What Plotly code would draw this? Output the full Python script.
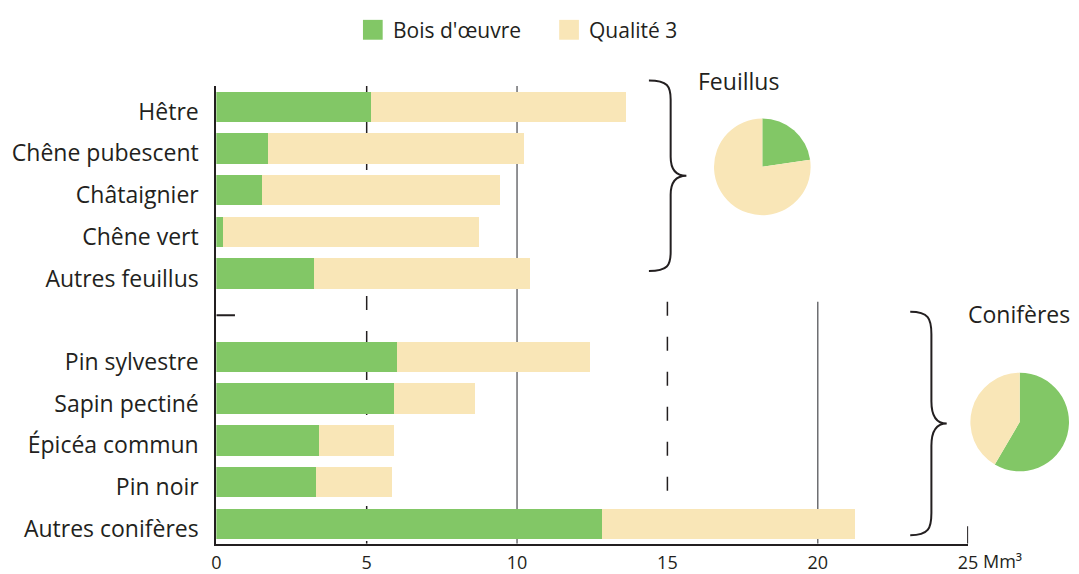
import plotly.graph_objects as go

# ---- data ----
feuillus = ["Hêtre", "Chêne pubescent", "Châtaignier", "Chêne vert", "Autres feuillus"]
feuillus_bois = [5.15, 1.74, 1.54, 0.23, 3.25]
feuillus_q3 = [8.49, 8.49, 7.90, 8.52, 7.18]

coniferes = ["Pin sylvestre", "Sapin pectiné", "Épicéa commun", "Pin noir", "Autres conifères"]
coniferes_bois = [6.03, 5.93, 3.44, 3.34, 12.85]
coniferes_q3 = [6.40, 2.69, 2.49, 2.50, 8.40]

series_names = ["Bois d'œuvre", "Qualité 3"]
x_ticks = [0, 5, 10, 15, 20, 25]
x_unit = "Mm³"

GREEN = "#82C766"
BEIGE = "#F9E6B7"
TXT = "#231F20"
FONT = "Open Sans"

W, H = 1079, 574

# positions: feuillus on top, a gap slot, then conifères
names = feuillus + coniferes
bois = feuillus_bois + coniferes_bois
q3 = feuillus_q3 + coniferes_q3
n_f = len(feuillus)
n_c = len(coniferes)
ypos = [n_f + n_c - i for i in range(n_f)] + [n_c - 1 - i for i in range(n_c)]
gap_pos = n_c

def px(x):
    return x / W

def py(y):
    return 1 - y / H

fig = go.Figure()
fig.add_trace(go.Bar(y=ypos, x=bois, orientation="h", name=series_names[0],
                     marker=dict(color=GREEN, line=dict(width=0)), width=0.73,
                     showlegend=False))
fig.add_trace(go.Bar(y=ypos, x=q3, orientation="h", name=series_names[1],
                     marker=dict(color=BEIGE, line=dict(width=0)), width=0.73,
                     showlegend=False))

# pies
fig.add_trace(go.Pie(values=[sum(feuillus_bois), sum(feuillus_q3)], labels=series_names,
                     marker=dict(colors=[GREEN, BEIGE], line=dict(width=0)),
                     sort=False, direction="clockwise", rotation=0, textinfo="none",
                     hoverinfo="label+value", showlegend=False,
                     domain=dict(x=[px(719), px(817)], y=[py(217), py(119)])))
fig.add_trace(go.Pie(values=[sum(coniferes_bois), sum(coniferes_q3)], labels=series_names,
                     marker=dict(colors=[GREEN, BEIGE], line=dict(width=0)),
                     sort=False, direction="clockwise", rotation=0, textinfo="none",
                     hoverinfo="label+value", showlegend=False,
                     domain=dict(x=[px(979), 1.0], y=[py(475), py(375)])))

shapes = []
# gridlines
ytop = 10.5
shapes.append(dict(type="line", xref="x", yref="y", x0=5, x1=5, y0=ytop, y1=-0.48,
                   line=dict(color="#231F20", width=1.5, dash="14px,21px"), layer="below"))
shapes.append(dict(type="line", xref="x", yref="y", x0=10, x1=10, y0=ytop, y1=-0.48,
                   line=dict(color="#6D6E71", width=1.5), layer="below"))
shapes.append(dict(type="line", xref="x", yref="y", x0=15, x1=15, y0=5.32, y1=-0.48,
                   line=dict(color="#231F20", width=1.5, dash="14px,21px"), layer="below"))
shapes.append(dict(type="line", xref="x", yref="y", x0=20, x1=20, y0=5.32, y1=-0.48,
                   line=dict(color="#6D6E71", width=1.5), layer="below"))
# end tick at 25 and gap tick
shapes.append(dict(type="line", xref="x", yref="y", x0=25, x1=25, y0=-0.48, y1=-0.06,
                   line=dict(color=TXT, width=2)))
shapes.append(dict(type="line", xref="x", yref="y", x0=0, x1=0.62, y0=gap_pos, y1=gap_pos,
                   line=dict(color=TXT, width=2)))

def brace(xl, yt, yb, w):
    ym = (yt + yb) / 2
    h = (yb - yt) / 2
    xv = xl + 0.58 * w
    pts = [
        f"M {px(xl)},{py(yt)}",
        f"C {px(xl + 0.5*w)},{py(yt)} {px(xv)},{py(yt + 0.06*h)} {px(xv)},{py(yt + 0.2*h)}",
        f"L {px(xv)},{py(ym - 0.2*h)}",
        f"C {px(xv)},{py(ym - 0.05*h)} {px(xl + 0.75*w)},{py(ym)} {px(xl + w)},{py(ym)}",
        f"C {px(xl + 0.75*w)},{py(ym)} {px(xv)},{py(ym + 0.05*h)} {px(xv)},{py(ym + 0.2*h)}",
        f"L {px(xv)},{py(yb - 0.2*h)}",
        f"C {px(xv)},{py(yb - 0.06*h)} {px(xl + 0.5*w)},{py(yb)} {px(xl)},{py(yb)}",
    ]
    return dict(type="path", xref="paper", yref="paper", path=" ".join(pts),
                line=dict(color=TXT, width=2))

shapes.append(brace(653, 81, 273, 38))
shapes.append(brace(918, 314, 539, 37))

# legend squares
shapes.append(dict(type="rect", xref="paper", yref="paper", x0=px(363), x1=px(383),
                   y0=py(40), y1=py(20), fillcolor=GREEN, line=dict(width=0)))
shapes.append(dict(type="rect", xref="paper", yref="paper", x0=px(562), x1=px(582),
                   y0=py(40), y1=py(20), fillcolor=BEIGE, line=dict(width=0)))

annotations = [
    dict(text=series_names[0], xref="paper", yref="paper", x=px(391), y=py(30),
         xanchor="left", yanchor="middle", showarrow=False, font=dict(size=21, color=TXT)),
    dict(text=series_names[1], xref="paper", yref="paper", x=px(590), y=py(30),
         xanchor="left", yanchor="middle", showarrow=False, font=dict(size=21, color=TXT)),
    dict(text="Feuillus", xref="paper", yref="paper", x=px(744), y=py(82),
         xanchor="center", yanchor="middle", showarrow=False, font=dict(size=23, color=TXT)),
    dict(text="Conifères", xref="paper", yref="paper", x=px(975), y=py(316),
         xanchor="left", yanchor="middle", showarrow=False, font=dict(size=23, color=TXT)),
    dict(text=x_unit, xref="x", yref="paper", x=25, y=py(565), xshift=13,
         xanchor="left", yanchor="middle", showarrow=False, font=dict(size=18, color=TXT)),
]

fig.update_layout(
    width=W, height=H,
    margin=dict(l=0, r=0, t=0, b=0),
    paper_bgcolor="white", plot_bgcolor="white",
    barmode="stack",
    font=dict(family=FONT, color=TXT),
    shapes=shapes, annotations=annotations,
    xaxis=dict(domain=[px(214.3), px(976.7)], range=[0, 25],
               tickvals=x_ticks, ticktext=[str(v) for v in x_ticks],
               showgrid=False, zeroline=False, showline=True, linecolor=TXT, linewidth=2,
               ticks="", tickfont=dict(size=18, color=TXT), ticklabelstandoff=2,
               fixedrange=True),
    yaxis=dict(domain=[py(547.5), py(86.5)], range=[-0.48, 10.5],
               tickvals=ypos, ticktext=names,
               showgrid=False, zeroline=False, showline=True, linecolor=TXT, linewidth=2,
               ticks="", tickfont=dict(size=23, color=TXT), ticklabelstandoff=11,
               ticklabelshift=5, fixedrange=True),
    bargap=0,
)

fig.write_html("out.html", config={"displayModeBar": False},
               post_script="document.body.style.margin='0';document.body.style.overflow='hidden';")
